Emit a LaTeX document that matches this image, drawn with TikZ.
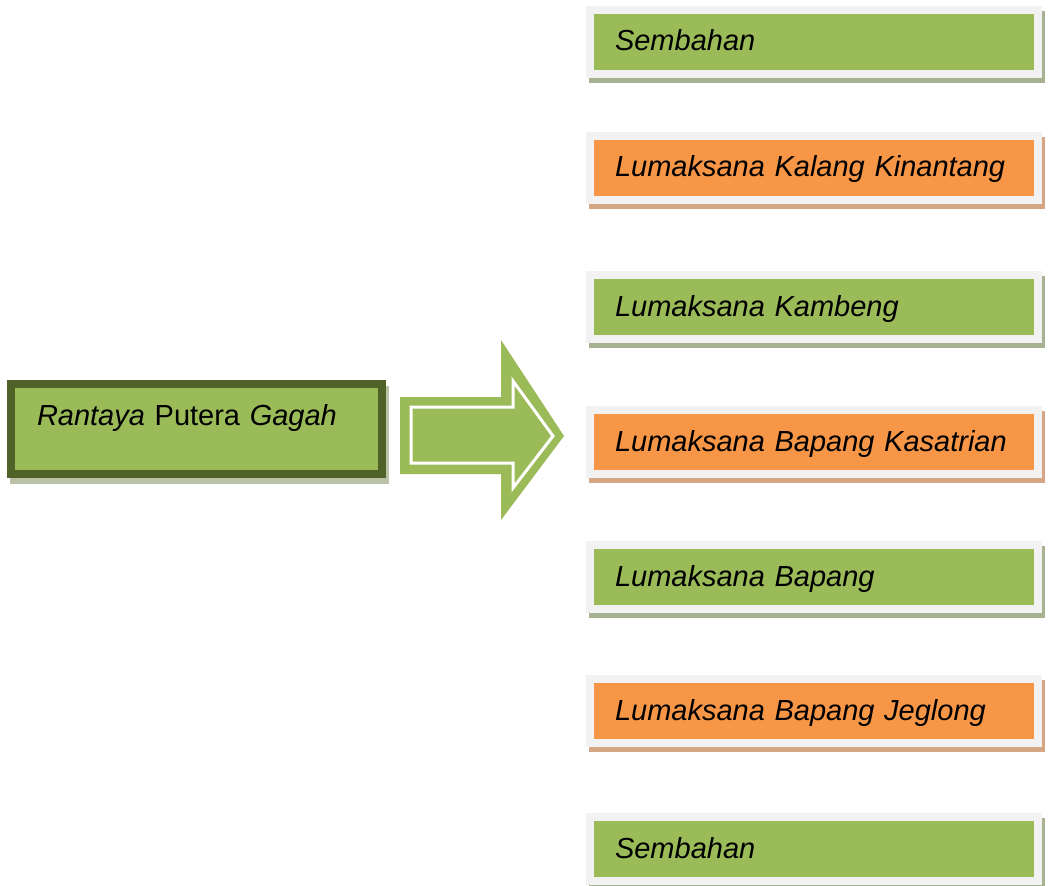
\documentclass[tikz,border=0pt]{standalone}
\usepackage{fontspec}
\setmainfont{Liberation Sans}
\usepackage{tikz}
\usetikzlibrary{shadows}

\definecolor{leafgreen}{HTML}{9BBB59}
\definecolor{tangerine}{HTML}{F79646}
\definecolor{olivedark}{HTML}{4F6228}
\definecolor{paleframe}{HTML}{F2F2F2}
\definecolor{greenshade}{HTML}{A7B290}
\definecolor{oliveshade}{HTML}{B9C2A6}
\definecolor{orangeshade}{HTML}{D4A683}

\begin{document}
\begin{tikzpicture}[x=1pt,y=-1pt,
    every node/.style={font=\fontsize{29}{35}\selectfont},
    movebox/.style={draw=paleframe, line width=8pt, fill=leafgreen,
        minimum width=448pt, minimum height=64pt, text width=398pt,
        inner xsep=25pt, inner ysep=0pt, align=left,
        text height=21pt, text depth=3pt},
    greenbox/.style={movebox, fill=leafgreen,
        general shadow={shadow xshift=3pt, shadow yshift=-5pt,
            fill=greenshade, draw=greenshade, line width=8pt}},
    orangebox/.style={movebox, fill=tangerine,
        general shadow={shadow xshift=3pt, shadow yshift=-5pt,
            fill=orangeshade, draw=orangeshade, line width=8pt}},
    rantayabox/.style={draw=olivedark, line width=8pt, fill=leafgreen,
        minimum width=371pt, minimum height=90pt, text width=319pt,
        inner xsep=26pt, inner ysep=0pt, align=left,
        text height=21pt, text depth=29pt,
        general shadow={shadow xshift=3pt, shadow yshift=-6pt,
            fill=oliveshade, draw=oliveshade, line width=8pt}}]
    \useasboundingbox (0,0) rectangle (1048,885);

    % draw main box
    \node[rantayabox] (rantaya) at (196.5,429) {\textit{Rantaya} Putera \textit{Gagah}};

    % draw big arrow
    \fill[leafgreen] (400,397) -- (501,397) -- (501,340) -- (564,436)
        -- (501,520) -- (501,474) -- (400,474) -- cycle;
    \draw[white, line width=3pt] (411,407) -- (513,407) -- (513,381) -- (553,436)
        -- (513,488) -- (513,463) -- (411,463) -- cycle;

    % draw list of moves
    \foreach \y/\kind/\name [count=\i] in {
        42/greenbox/Sembahan,
        168/orangebox/Lumaksana Kalang Kinantang,
        307/greenbox/Lumaksana Kambeng,
        442/orangebox/Lumaksana Bapang Kasatrian,
        577/greenbox/Lumaksana Bapang,
        711/orangebox/Lumaksana Bapang Jeglong,
        849/greenbox/Sembahan}
    \node[\kind] (move\i) at (814,\y) {\textit{\name}};
\end{tikzpicture}
\end{document}
